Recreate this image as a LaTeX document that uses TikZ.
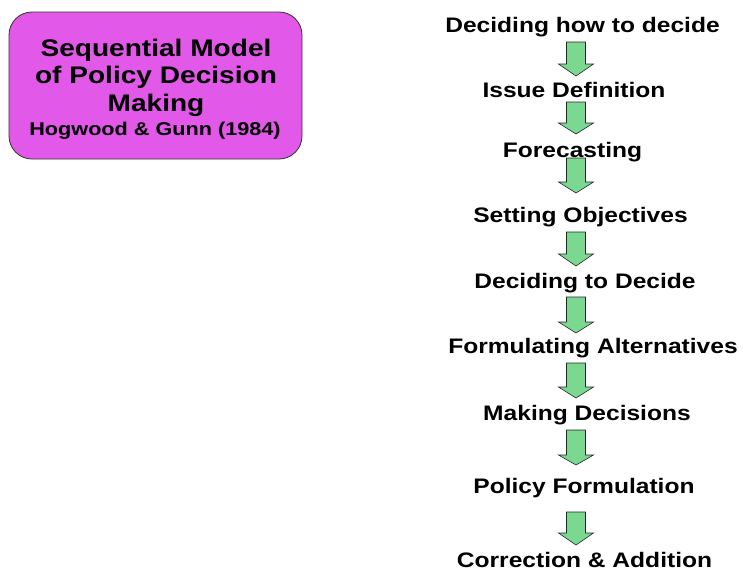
\documentclass[tikz,border=0pt]{standalone}
\usepackage{fontspec}
\newfontfamily\arialx{Liberation Sans}[FakeStretch=1.17]
\definecolor{boxpink}{RGB}{226,88,232}
\definecolor{arrowgreen}{RGB}{122,216,144}
\tikzset{
  stepname/.style={anchor=base, inner sep=0pt, font=\arialx\bfseries\fontsize{21}{24}\selectfont},
  titletext/.style={anchor=base, inner sep=0pt, font=\arialx\bfseries\fontsize{24}{27}\selectfont},
  subtext/.style={anchor=base, inner sep=0pt, font=\arialx\bfseries\fontsize{18.5}{21}\selectfont},
  pinkbox/.style={draw=black!80, line width=0.8pt, fill=boxpink, rounded corners=23pt},
  blockarrow/.style={draw=black!85, line width=0.6pt, fill=arrowgreen, line join=miter}
}
\newcommand{\downblock}[4]{% x, top, headbase, tip
  \draw[blockarrow] (#1-9.5,#2) -- (#1+9.5,#2) -- (#1+9.5,#3) -- (#1+17.5,#3) -- (#1,#4) -- (#1-17.5,#3) -- (#1-9.5,#3) -- cycle;}
\begin{document}
\begin{tikzpicture}[x=1pt,y=-1pt]
\useasboundingbox (0,0) rectangle (743,570);
% title box
\node[pinkbox, minimum width=293pt, minimum height=147pt, inner sep=0pt] (box) at (155.5,85.5) {};
\node[titletext] (t1) at (156,56.5) {Sequential Model};
\node[titletext] (t2) at (156,83.5) {of Policy Decision};
\node[titletext] (t3) at (156,111) {Making};
\node[subtext] (t4) at (155,135) {Hogwood \& Gunn (1984)};
% steps
\node[stepname] (s1) at (582.5,32) {Deciding how to decide};
\node[stepname] (s2) at (574,97) {Issue Definition};
\node[stepname] (s3) at (572.5,157) {Forecasting};
\node[stepname] (s4) at (580.5,222) {Setting Objectives};
\node[stepname] (s5) at (585,288) {Deciding to Decide};
\node[stepname] (s6) at (593,353) {Formulating Alternatives};
\node[stepname] (s7) at (587,420) {Making Decisions};
\node[stepname] (s8) at (584,493) {Policy Formulation};
\node[stepname] (s9) at (584.5,567) {Correction \& Addition};
% block arrows
\downblock{576}{42}{64}{76}
\downblock{576}{102}{123}{134}
\downblock{576}{158}{182}{193}
\downblock{576}{232}{254}{266}
\downblock{576}{297}{322}{333}
\downblock{576}{363}{387}{398}
\downblock{576}{430}{455}{465}
\downblock{576}{512}{533}{545}
\end{tikzpicture}
\end{document}
